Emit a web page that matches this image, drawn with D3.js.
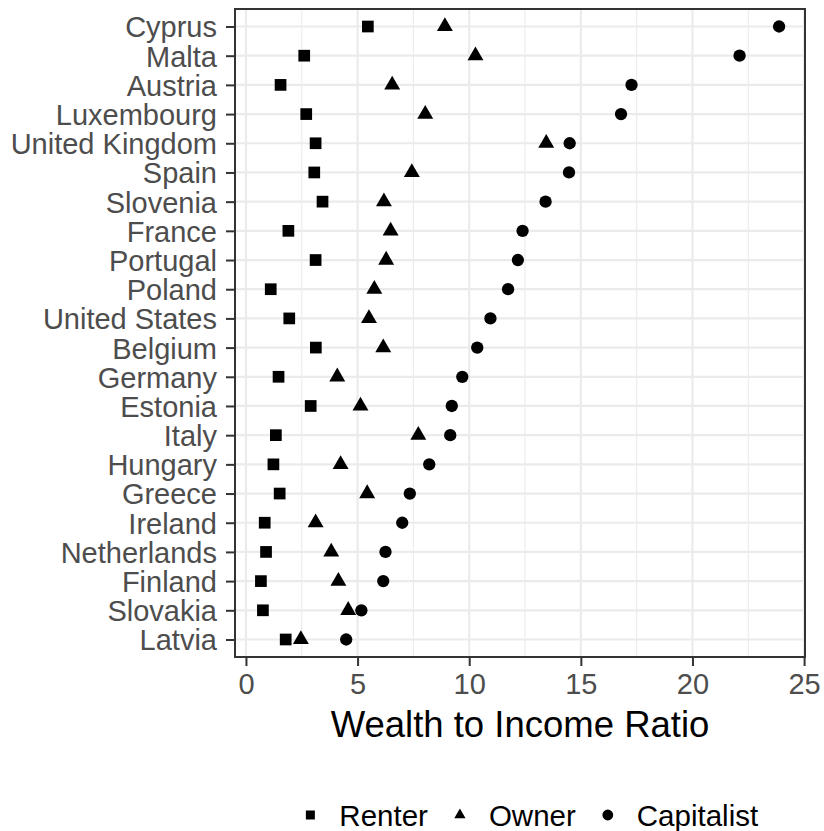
<!DOCTYPE html>
<html>
<head>
<meta charset="utf-8">
<script src="https://cdn.jsdelivr.net/npm/d3@7"></script>
<style>
  html, body { margin: 0; padding: 0; background: #fff; }
  svg { display: block; }
  text { font-family: "Liberation Sans", Arial, sans-serif; }
</style>
</head>
<body>
<div id="chart"></div>
<script>
// ---- data ----
const countries = ["Cyprus","Malta","Austria","Luxembourg","United Kingdom","Spain","Slovenia","France","Portugal","Poland","United States","Belgium","Germany","Estonia","Italy","Hungary","Greece","Ireland","Netherlands","Finland","Slovakia","Latvia"];
const renter = [5.46,2.61,1.55,2.70,3.12,3.06,3.43,1.90,3.12,1.11,1.94,3.13,1.46,2.90,1.34,1.23,1.51,0.84,0.90,0.67,0.76,1.78];
const owner = [8.91,10.28,6.55,8.03,13.45,7.43,6.18,6.48,6.28,5.75,5.51,6.15,4.09,5.13,7.72,4.24,5.43,3.12,3.82,4.14,4.58,2.46];
const capitalist = [23.88,22.11,17.27,16.80,14.50,14.47,13.42,12.39,12.18,11.74,10.95,10.36,9.69,9.22,9.15,8.21,7.34,7.00,6.25,6.15,5.17,4.49];
const seriesNames = ["Renter","Owner","Capitalist"];
const xTicks = [0,5,10,15,20,25];
const xMinor = [2.5,7.5,12.5,17.5,22.5];
const xTitle = "Wealth to Income Ratio";

// ---- layout ----
const W = 824, H = 831;
const panel = {left: 235, right: 805, top: 9, bottom: 657};

const svg = d3.select("#chart").append("svg").attr("width", W).attr("height", H);

const all = renter.concat(owner, capitalist);
const lo = d3.min(all), hi = d3.max(all), span = hi - lo;
const x = d3.scaleLinear().domain([lo - 0.05*span, hi + 0.05*span]).range([panel.left, panel.right]);
const y = d3.scalePoint().domain(countries).range([panel.top, panel.bottom]).padding(0.6);

const grid = svg.append("g");
grid.selectAll(".mnx").data(xMinor).join("line")
  .attr("x1", d => x(d)).attr("x2", d => x(d))
  .attr("y1", panel.top).attr("y2", panel.bottom)
  .attr("stroke", "#EBEBEB").attr("stroke-width", 1.1);
grid.selectAll(".mjx").data(xTicks).join("line")
  .attr("x1", d => x(d)).attr("x2", d => x(d))
  .attr("y1", panel.top).attr("y2", panel.bottom)
  .attr("stroke", "#EBEBEB").attr("stroke-width", 2.2);
grid.selectAll(".mjy").data(countries).join("line")
  .attr("x1", panel.left).attr("x2", panel.right)
  .attr("y1", d => y(d)).attr("y2", d => y(d))
  .attr("stroke", "#EBEBEB").attr("stroke-width", 2.2);

// points
const shapes = [d3.symbolSquare, d3.symbolTriangle, d3.symbolCircle];
const sizes = [137, 110, 119];
const seriesVals = [renter, owner, capitalist];
const pts = svg.append("g");
countries.forEach((c, i) => {
  seriesVals.forEach((vals, s) => {
    pts.append("path")
      .attr("d", d3.symbol().type(shapes[s]).size(sizes[s])())
      .attr("transform", `translate(${x(vals[i])},${y(c)})`)
      .attr("fill", "#000");
  });
});

// panel border
svg.append("rect")
  .attr("x", panel.left).attr("y", panel.top)
  .attr("width", panel.right - panel.left).attr("height", panel.bottom - panel.top)
  .attr("fill", "none").attr("stroke", "#333333").attr("stroke-width", 2);

// axes
const xAxis = svg.append("g").attr("transform", `translate(0,${panel.bottom})`)
  .call(d3.axisBottom(x).tickValues(xTicks).tickFormat(d3.format("d")).tickSize(9).tickPadding(6));
const yAxis = svg.append("g").attr("transform", `translate(${panel.left},0)`)
  .call(d3.axisLeft(y).tickSize(9).tickPadding(9));
[xAxis, yAxis].forEach(a => {
  a.select(".domain").remove();
  a.selectAll(".tick line").attr("stroke", "#333333").attr("stroke-width", 2);
  a.selectAll(".tick text").attr("fill", "#4D4D4D")
    .style("font-family", '"Liberation Sans", Arial, sans-serif').style("font-size", "29px");
});
xAxis.selectAll(".tick text").attr("dy", null).attr("y", 29).attr("dominant-baseline", "middle");
yAxis.selectAll(".tick text").attr("dy", "0.36em");

// x title
svg.append("text").attr("x", (panel.left + panel.right) / 2).attr("y", 737)
  .attr("text-anchor", "middle").attr("fill", "#000")
  .style("font-size", "36.5px").text(xTitle);

// legend
const leg = svg.append("g");
const legSizes = [81, 55, 92];
const items = seriesNames.map((n, i) => {
  const g = leg.append("g");
  g.append("path").attr("d", d3.symbol().type(shapes[i]).size(legSizes[i])()).attr("fill", "#000");
  const t = g.append("text").attr("x", 29).attr("y", 0).attr("dy", "0.36em")
    .attr("fill", "#000").style("font-size", "29.5px").text(n);
  return {g, w: t.node().getComputedTextLength()};
});
let cur = 0;
const pos = [];
items.forEach((it, i) => { pos.push(cur); cur += 29 + it.w + (i < items.length - 1 ? 32 : 0); });
const total = cur + 4.5;
const start = 532 - total / 2 + 4.5;
items.forEach((it, i) => it.g.attr("transform", `translate(${start + pos[i]},815)`));
</script>
</body>
</html>
